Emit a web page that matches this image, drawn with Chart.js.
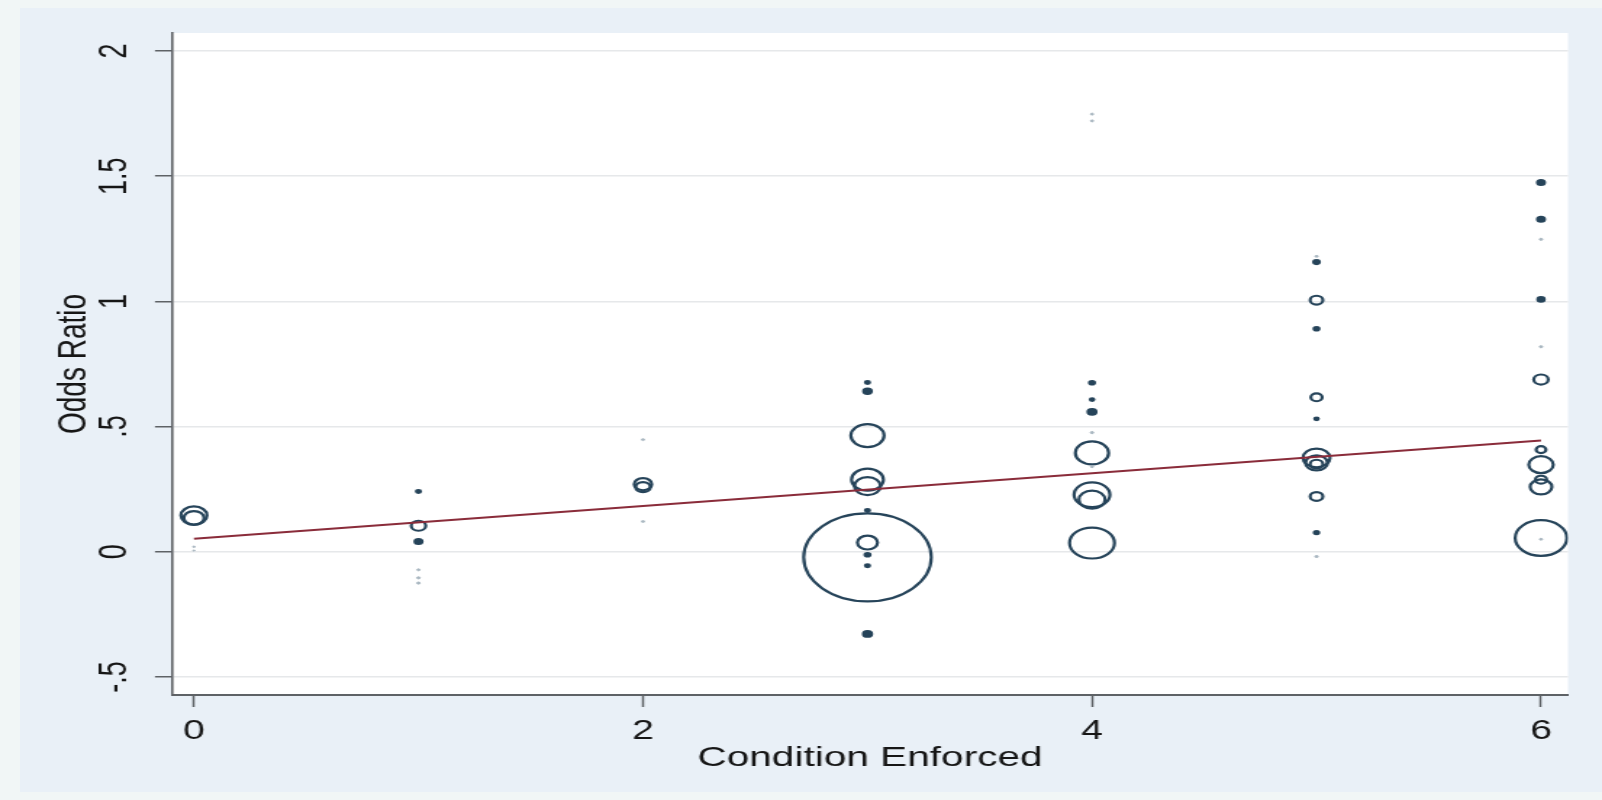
<!DOCTYPE html>
<html>
<head>
<meta charset="utf-8">
<script src="https://cdn.jsdelivr.net/npm/chart.js@4/dist/chart.umd.min.js"></script>
<style>
  html, body { margin: 0; padding: 0; width: 1602px; height: 800px; overflow: hidden; background: #f1f6f6; }
  #panel { position: absolute; left: 20px; top: 8px; width: 1582px; height: 784px; background: #e9f0f7; }
  /* the graph is laid out on a narrower canvas and widened to the page */
  #stage { position: absolute; left: 0; top: 0; width: 1105px; height: 800px; transform: scale(1.4498, 1); transform-origin: 0 0; }
</style>
</head>
<body>
<div id="panel"></div>
<div id="stage"><canvas id="c" width="1105" height="800" style="width:1105px;height:800px"></canvas></div>
<script>
// Study-level estimates: number of conditions enforced, odds ratio, study weight
const conditionEnforced = [
  0, 0, 0, 0,
  1, 1, 1, 1, 1, 1,
  2, 2, 2, 2,
  3, 3, 3, 3, 3, 3, 3, 3, 3, 3, 3,
  4, 4, 4, 4, 4, 4, 4, 4, 4, 4, 4,
  5, 5, 5, 5, 5, 5, 5, 5, 5, 5, 5, 5,
  6, 6, 6, 6, 6, 6, 6, 6, 6, 6, 6, 6
];
const oddsRatio = [
  0.145, 0.135, 0.02, 0.005,
  0.241, 0.104, 0.041, -0.072, -0.104, -0.125,
  0.448, 0.27, 0.258, 0.121,
  0.676, 0.641, 0.464, 0.288, 0.262, 0.165, 0.037, -0.012, -0.022, -0.056, -0.328,
  1.748, 1.721, 0.675, 0.608, 0.559, 0.476, 0.395, 0.34, 0.228, 0.208, 0.035,
  1.18, 1.157, 1.005, 0.891, 0.617, 0.531, 0.375, 0.355, 0.35, 0.221, 0.077, -0.019,
  1.475, 1.328, 1.248, 1.008, 0.819, 0.688, 0.408, 0.348, 0.288, 0.259, 0.055, 0.05
];
const studyWeight = [
  4.2, 2.5, 0.03, 0.02,
  0.1, 1.3, 0.3, 0.05, 0.06, 0.06,
  0.05, 1.9, 1.3, 0.05,
  0.1, 0.35, 6.8, 6.25, 4.2, 0.1, 2.5, 0.15, 100, 0.1, 0.4,
  0.05, 0.05, 0.15, 0.08, 0.4, 0.06, 6.8, 0.05, 7.9, 4.2, 12.4,
  0.05, 0.2, 1.0, 0.15, 0.8, 0.08, 4.5, 3.0, 1.0, 1.0, 0.12, 0.06,
  0.3, 0.3, 0.06, 0.25, 0.06, 1.3, 0.6, 3.7, 0.8, 2.9, 16.4, 0.05
];

// Fitted linear trend (weighted regression of odds ratio on conditions enforced)
const fitX = [0, 6];
const fitY = [0.052, 0.444];

const xTickValues = [0, 2, 4, 6];
const xTickLabels = ['0', '2', '4', '6'];
const yTickValues = [-0.5, 0, 0.5, 1, 1.5, 2];
const yTickLabels = ['-.5', '0', '.5', '1', '1.5', '2'];

const xTitle = 'Condition Enforced';
const yTitle = 'Odds Ratio';

// bubble area proportional to weight
const bubbleScale = 4.4;
const bubbles = conditionEnforced.map((x, i) => ({
  x: x,
  y: oddsRatio[i],
  r: bubbleScale * Math.sqrt(studyWeight[i]),
  w: studyWeight[i]
}));
const fitLine = fitX.map((x, i) => ({ x: x, y: fitY[i] }));

const FONT = "'Liberation Sans', Arial, Helvetica, sans-serif";
const INK = '#161616';
const AXIS = '#5e6266';
const MARK = '#26445a';
const FAINT = '#a9b7c1';

const plotBackground = {
  id: 'plotBackground',
  beforeDraw(chart) {
    const { ctx, chartArea: a } = chart;
    ctx.save();
    ctx.fillStyle = '#ffffff';
    ctx.fillRect(a.left, a.top, a.right - a.left, a.bottom - a.top);
    ctx.restore();
  }
};

function isFaint(ctx) { return ctx.raw && ctx.raw.w < 0.07; }
function isDot(ctx) { return ctx.raw && ctx.raw.w < 0.45; }

new Chart(document.getElementById('c'), {
  data: {
    datasets: [
      {
        type: 'line',
        data: fitLine,
        borderColor: '#8a2c3a',
        borderWidth: 2,
        pointRadius: 0,
        fill: false,
        order: 0
      },
      {
        type: 'bubble',
        data: bubbles,
        backgroundColor: ctx => isFaint(ctx) ? FAINT : (isDot(ctx) ? MARK : 'rgba(0,0,0,0)'),
        borderColor: ctx => isFaint(ctx) ? FAINT : MARK,
        borderWidth: ctx => isFaint(ctx) ? 1 : 2.2,
        hoverRadius: 0,
        order: 1
      }
    ]
  },
  options: {
    responsive: false,
    animation: false,
    devicePixelRatio: 1,
    events: [],
    layout: { autoPadding: false, padding: { left: 0, top: 33, right: 23.5, bottom: 0 } },
    plugins: { legend: { display: false }, tooltip: { enabled: false } },
    scales: {
      x: {
        type: 'linear',
        min: -0.098,
        max: 6.12,
        afterBuildTicks: s => { s.ticks = xTickValues.map(v => ({ value: v })); },
        afterFit: s => { s.height = 105; s.paddingLeft = 0; s.paddingRight = 0; },
        grid: { drawOnChartArea: false, drawTicks: true, tickLength: 12, tickColor: AXIS, tickWidth: 1.5 },
        border: { display: true, color: AXIS, width: 2 },
        ticks: {
          color: INK,
          font: { family: FONT, size: 27 },
          padding: 8,
          maxRotation: 0,
          minRotation: 0,
          callback: (v, i) => xTickLabels[i]
        },
        title: {
          display: true,
          text: xTitle,
          color: INK,
          font: { family: FONT, size: 28 },
          padding: { top: 0, bottom: 25 }
        }
      },
      y: {
        type: 'linear',
        min: -0.572,
        max: 2.072,
        afterBuildTicks: s => { s.ticks = yTickValues.map(v => ({ value: v })); },
        afterFit: s => { s.width = 118.6; s.paddingTop = 0; s.paddingBottom = 0; },
        grid: { color: '#e6e8ea', lineWidth: 1.5, drawTicks: true, tickLength: 11.7, tickColor: AXIS, tickWidth: 1.5 },
        border: { display: true, color: AXIS, width: 1.6 },
        ticks: {
          color: INK,
          font: { family: FONT, size: 27 },
          padding: 9,
          minRotation: 90,
          maxRotation: 90,
          crossAlign: 'center',
          callback: (v, i) => yTickLabels[i]
        },
        title: {
          display: true,
          text: yTitle,
          color: INK,
          font: { family: FONT, size: 28 },
          padding: { top: 34, bottom: 0 }
        }
      }
    }
  },
  plugins: [plotBackground]
});
</script>
</body>
</html>
